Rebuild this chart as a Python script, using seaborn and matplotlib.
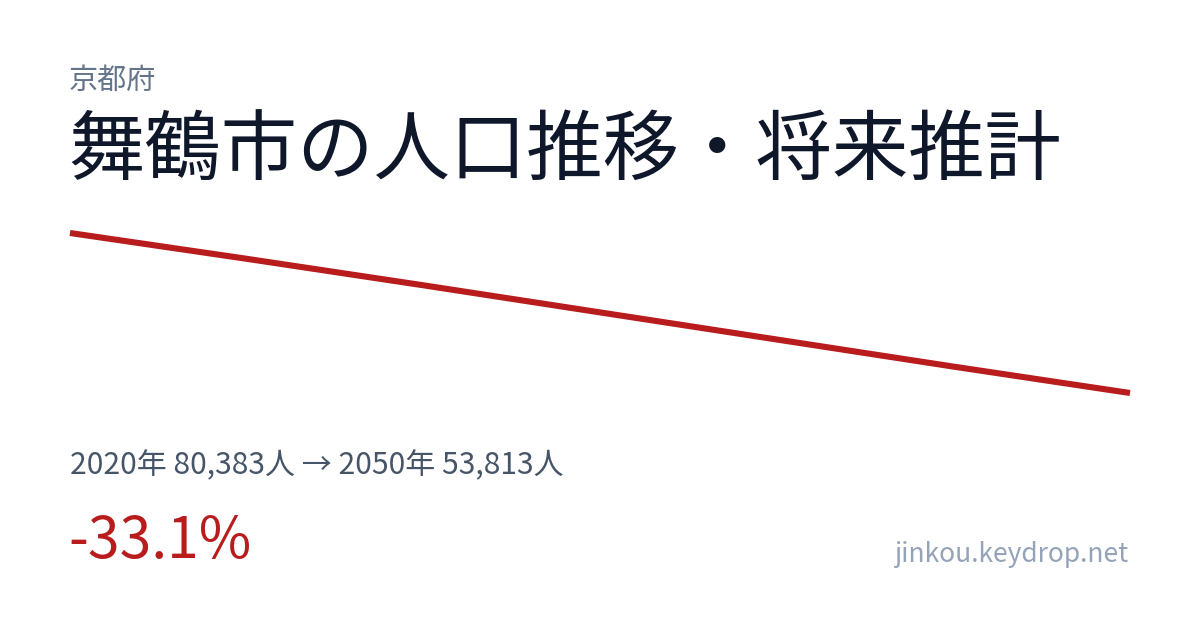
import matplotlib
matplotlib.use("Agg")
import matplotlib.pyplot as plt
import seaborn as sns
import pandas as pd

# data (2020 and 2050 from the labels, middle years)
years = [2020, 2025, 2030, 2035, 2040, 2045, 2050]
population = [80383, 76100, 71700, 67200, 62700, 58200, 53813]
pref = "京都府"
title = "舞鶴市の人口推移・将来推計"
site = "jinkou.keydrop.net"

sns.set_theme(style="white")
plt.rcParams["font.family"] = ["Noto Sans CJK JP", "DejaVu Sans"]

df = pd.DataFrame({"year": years, "pop": population})

W, H = 1200, 630
fig = plt.figure(figsize=(12, 6.3), dpi=100)
fig.patch.set_facecolor("white")

# axes placed so the line runs from (70,233) to (1130,393) in pixels
ax = fig.add_axes([70 / W, (H - 393) / H, 1060 / W, 160 / H])
sns.lineplot(data=df, x="year", y="pop", ax=ax, color="#b91c1c", linewidth=4.4)
for ln in ax.lines:
    ln.set_solid_capstyle("butt")
    ln.set_clip_on(False)
ax.set_xlim(years[0], years[-1])
ax.set_ylim(min(population), max(population))
ax.set_axis_off()

def px(x, y):
    return x / W, 1 - y / H

start, end = population[0], population[-1]
change = (end - start) / start * 100

fig.text(*px(69, 81), pref, fontsize=21, color="#64748b", va="center", ha="left")
fig.text(*px(68, 153), title, fontsize=55, color="#0f172a", va="center", ha="left")
fig.text(*px(70, 466), f"{years[0]}年 {start:,}人 → {years[-1]}年 {end:,}人",
         fontsize=21.6, color="#475569", va="center", ha="left")
fig.text(*px(68, 542), f"{change:.1f}%", fontsize=41, color="#b91c1c", va="center", ha="left")
fig.text(*px(1128, 555), site, fontsize=19, color="#94a3b8", va="center", ha="right")

fig.savefig("out.png", dpi=100, facecolor="white")
